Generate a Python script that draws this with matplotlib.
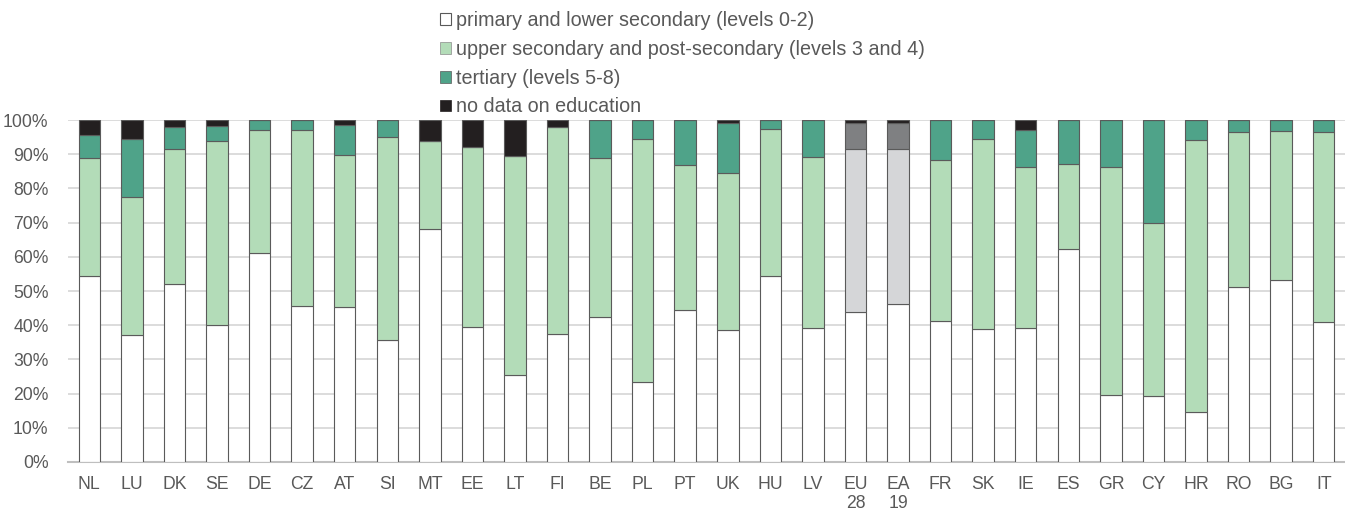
import numpy as np
import matplotlib.pyplot as plt
from matplotlib.patches import Patch

plt.rcParams["font.family"] = ["Liberation Sans", "DejaVu Sans"]

countries = ["NL", "LU", "DK", "SE", "DE", "CZ", "AT", "SI", "MT", "EE", "LT", "FI", "BE", "PL", "PT",
             "UK", "HU", "LV", "EU\n28", "EA\n19", "FR", "SK", "IE", "ES", "GR", "CY", "HR", "RO", "BG", "IT"]

# shares in %
primary = [54.5, 37.0, 52.0, 40.0, 61.0, 45.7, 45.4, 35.8, 68.2, 39.4, 25.5, 37.3, 42.3, 23.5, 44.3,
           38.5, 54.5, 39.2, 44.0, 46.3, 41.3, 38.9, 39.2, 62.3, 19.6, 19.4, 14.7, 51.2, 53.3, 40.8]
upper = [34.5, 40.5, 39.5, 54.0, 36.0, 51.5, 44.3, 59.2, 25.8, 52.8, 64.0, 60.7, 46.5, 71.0, 42.5,
         46.0, 43.0, 50.1, 47.5, 45.2, 47.0, 55.6, 47.1, 24.8, 66.6, 50.6, 79.5, 45.4, 43.4, 55.6]
tertiary = [6.5, 16.8, 6.5, 4.3, 3.0, 2.8, 8.9, 5.0, 0.0, 0.0, 0.0, 0.0, 11.2, 5.5, 13.2,
            14.5, 2.5, 10.7, 7.5, 7.5, 11.7, 5.5, 10.7, 12.9, 13.8, 30.0, 5.8, 3.4, 3.3, 3.6]
no_data = [4.5, 5.7, 2.0, 1.7, 0.0, 0.0, 1.4, 0.0, 6.0, 7.8, 10.5, 2.0, 0.0, 0.0, 0.0,
           1.0, 0.0, 0.0, 1.0, 1.0, 0.0, 0.0, 3.0, 0.0, 0.0, 0.0, 0.0, 0.0, 0.0, 0.0]

labels = ["primary and lower secondary (levels 0-2)",
          "upper secondary and post-secondary (levels 3 and 4)",
          "tertiary (levels 5-8)",
          "no data on education"]

col_up, col_ter, col_nd = "#b3dcb8", "#4fa389", "#231f20"
grey_up, grey_ter = "#d5d6d8", "#7f8082"
text_col = "#595959"

aggregates = ["EU\n28", "EA\n19"]
up_cols = [grey_up if c in aggregates else col_up for c in countries]
ter_cols = [grey_ter if c in aggregates else col_ter for c in countries]

fig = plt.figure(figsize=(13.45, 5.11), dpi=100)
ax = fig.add_axes([68 / 1345, 1 - 462 / 511, 1277 / 1345, 342 / 511])

x = np.arange(len(countries))
w = 0.505
p = np.array(primary)
u = np.array(upper)
t = np.array(tertiary)
n = np.array(no_data)
ec, lw = "#5a5a5a", 0.8
ax.bar(x, p, w, color="white", edgecolor=ec, linewidth=lw, zorder=3)
ax.bar(x, u, w, bottom=p, color=up_cols, edgecolor=ec, linewidth=lw, zorder=3)
ax.bar(x, t, w, bottom=p + u, color=ter_cols, edgecolor=ec, linewidth=lw, zorder=3)
ax.bar(x, n, w, bottom=p + u + t, color=col_nd, edgecolor=ec, linewidth=lw, zorder=3)

ax.set_xlim(-0.5, len(countries) - 0.5)
ax.set_ylim(0, 100)
ax.set_yticks(np.arange(0, 101, 10))
ax.set_yticklabels([f"{v}%" for v in range(0, 101, 10)])
ax.set_xticks(x)
ax.set_xticklabels(countries, va="top", linespacing=1.15)
ax.grid(axis="y", color="#d9d9d9", linewidth=1.3, zorder=0)
for s in ["top", "right", "left"]:
    ax.spines[s].set_visible(False)
ax.spines["bottom"].set_color("#bfbfbf")
ax.spines["bottom"].set_linewidth(1.5)
ax.tick_params(axis="both", length=0, labelsize=12.7, labelcolor=text_col)
ax.tick_params(axis="x", pad=10)
ax.tick_params(axis="y", pad=14)

handles = [Patch(facecolor="white", edgecolor="#595959", linewidth=0.8),
           Patch(facecolor=col_up, edgecolor="#8a8a8a", linewidth=0.5),
           Patch(facecolor=col_ter, edgecolor="#595959", linewidth=0.5),
           Patch(facecolor=col_nd, edgecolor=col_nd, linewidth=0.5)]
fig.legend(handles, labels, loc="upper left", bbox_to_anchor=(432 / 1345, 1 - 3 / 511),
           frameon=False, fontsize=14.2, labelcolor=text_col, handlelength=0.55,
           handleheight=0.55, handletextpad=0.25, labelspacing=0.5, borderaxespad=0)

fig.savefig("out.png", dpi=100)
